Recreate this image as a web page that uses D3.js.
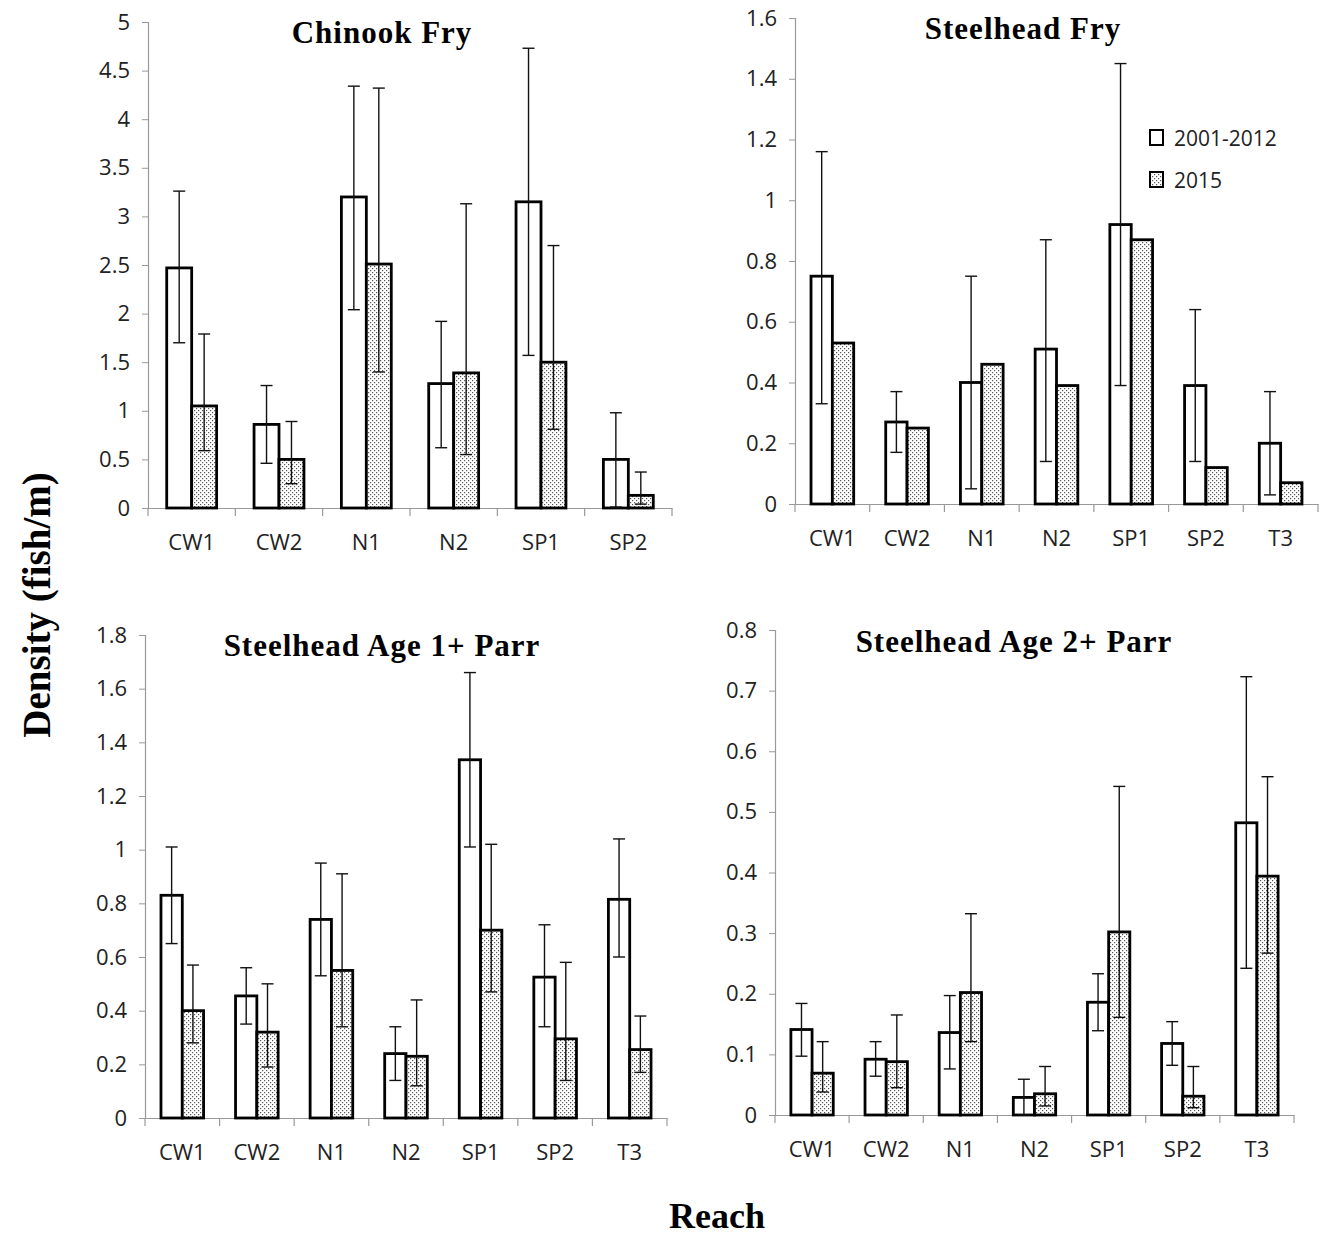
<!DOCTYPE html>
<html>
<head>
<meta charset="utf-8">
<script src="https://cdn.jsdelivr.net/npm/d3@7"></script>
<style>
  body { margin: 0; background: #fff; }
  .tick text { font-family: "Open Sans", "Liberation Sans", sans-serif; fill: #222; }
</style>
</head>
<body>
<svg id="chart" width="1334" height="1237"></svg>
<script>
// categories
var reaches6 = ["CW1", "CW2", "N1", "N2", "SP1", "SP2"];
var reaches7 = ["CW1", "CW2", "N1", "N2", "SP1", "SP2", "T3"];
var seriesNames = ["2001-2012", "2015"];

// Chinook fry
var chinookMean2001 = [2.47, 0.86, 3.20, 1.28, 3.15, 0.50];
var chinookLo2001 = [1.70, 0.46, 2.04, 0.62, 1.57, 0.01];
var chinookHi2001 = [3.26, 1.26, 4.34, 1.92, 4.73, 0.98];
var chinookMean2015 = [1.05, 0.50, 2.51, 1.39, 1.50, 0.13];
var chinookLo2015 = [0.59, 0.25, 1.40, 0.55, 0.81, 0.04];
var chinookHi2015 = [1.79, 0.89, 4.32, 3.13, 2.70, 0.37];

// Steelhead fry (no error bars for 2015)
var fryMean2001 = [0.75, 0.27, 0.40, 0.51, 0.92, 0.39, 0.20];
var fryLo2001 = [0.33, 0.17, 0.05, 0.14, 0.39, 0.14, 0.03];
var fryHi2001 = [1.16, 0.37, 0.75, 0.87, 1.45, 0.64, 0.37];
var fryMean2015 = [0.53, 0.25, 0.46, 0.39, 0.87, 0.12, 0.07];

// Steelhead age 1+ parr
var parr1Mean2001 = [0.83, 0.455, 0.74, 0.24, 1.335, 0.525, 0.815];
var parr1Lo2001 = [0.65, 0.35, 0.53, 0.14, 1.01, 0.34, 0.60];
var parr1Hi2001 = [1.01, 0.56, 0.95, 0.34, 1.66, 0.72, 1.04];
var parr1Mean2015 = [0.40, 0.32, 0.55, 0.23, 0.70, 0.295, 0.255];
var parr1Lo2015 = [0.28, 0.19, 0.34, 0.12, 0.47, 0.14, 0.17];
var parr1Hi2015 = [0.57, 0.50, 0.91, 0.44, 1.02, 0.58, 0.38];

// Steelhead age 2+ parr
var parr2Mean2001 = [0.141, 0.092, 0.136, 0.029, 0.186, 0.118, 0.482];
var parr2Lo2001 = [0.097, 0.064, 0.076, 0.0, 0.139, 0.082, 0.242];
var parr2Hi2001 = [0.184, 0.121, 0.197, 0.059, 0.233, 0.154, 0.723];
var parr2Mean2015 = [0.069, 0.088, 0.202, 0.035, 0.302, 0.031, 0.394];
var parr2Lo2015 = [0.038, 0.045, 0.121, 0.015, 0.161, 0.012, 0.267];
var parr2Hi2015 = [0.121, 0.165, 0.332, 0.080, 0.542, 0.080, 0.558];

var svg = d3.select("#chart");

// dotted fill for the 2015 bars
var pat = svg.append("defs").append("pattern")
    .attr("id", "dots")
    .attr("patternUnits", "userSpaceOnUse")
    .attr("width", 4).attr("height", 4);
pat.append("rect").attr("width", 4).attr("height", 4).attr("fill", "#fff");
pat.append("rect").attr("x", 0).attr("y", 0).attr("width", 1.2).attr("height", 1.2).attr("fill", "#555");
pat.append("rect").attr("x", 2).attr("y", 2).attr("width", 1.2).attr("height", 1.2).attr("fill", "#555");

var panels = [
    { title: "Chinook Fry", cats: reaches6, max: 5, step: 0.5,
      left: 148, right: 672, top: 22, bottom: 508, titleX: 382, titleY: 43,
      mean: [chinookMean2001, chinookMean2015],
      lo: [chinookLo2001, chinookLo2015], hi: [chinookHi2001, chinookHi2015] },
    { title: "Steelhead Fry", cats: reaches7, max: 1.6, step: 0.2,
      left: 795, right: 1318, top: 18, bottom: 504, titleX: 1023, titleY: 39,
      mean: [fryMean2001, fryMean2015],
      lo: [fryLo2001, null], hi: [fryHi2001, null], legend: true },
    { title: "Steelhead Age 1+ Parr", cats: reaches7, max: 1.8, step: 0.2,
      left: 145, right: 667, top: 635, bottom: 1118, titleX: 382, titleY: 656,
      mean: [parr1Mean2001, parr1Mean2015],
      lo: [parr1Lo2001, parr1Lo2015], hi: [parr1Hi2001, parr1Hi2015] },
    { title: "Steelhead Age 2+ Parr", cats: reaches7, max: 0.8, step: 0.1,
      left: 775, right: 1294, top: 630, bottom: 1115, titleX: 1014, titleY: 652,
      mean: [parr2Mean2001, parr2Mean2015],
      lo: [parr2Lo2001, parr2Lo2015], hi: [parr2Hi2001, parr2Hi2015] }
];

panels.forEach(function (p) {
    var x = d3.scaleBand().domain(p.cats).range([p.left, p.right]).paddingInner(0).paddingOuter(0);
    var sub = d3.scaleBand().domain([0, 1]).range([0, x.bandwidth()]).paddingOuter(0.75).paddingInner(0);
    var y = d3.scaleLinear().domain([0, p.max]).range([p.bottom, p.top]);
    var g = svg.append("g");

    // y axis
    var yTicks = d3.range(0, p.max + p.step / 2, p.step).map(function (v) { return +v.toFixed(2); });
    var yAxis = g.append("g")
        .attr("transform", "translate(" + p.left + ",0)")
        .call(d3.axisLeft(y).tickValues(yTicks).tickSize(6).tickPadding(12).tickFormat(function (d) { return d; }));
    yAxis.selectAll("text").attr("font-size", "22px");

    // x axis with boundary ticks
    var xAxis = g.append("g")
        .attr("transform", "translate(0," + p.bottom + ")")
        .call(d3.axisBottom(x).tickSize(0).tickPadding(26));
    xAxis.selectAll("text").attr("font-size", "22px");
    xAxis.selectAll(".tick line").remove();
    g.selectAll(".bound")
        .data(d3.range(p.cats.length + 1))
        .enter().append("line")
        .attr("x1", function (i) { return p.left + i * x.step(); })
        .attr("x2", function (i) { return p.left + i * x.step(); })
        .attr("y1", p.bottom).attr("y2", p.bottom + 8)
        .attr("stroke", "#999").attr("stroke-width", 1.2);
    g.selectAll(".domain").attr("stroke", "#999").attr("stroke-width", 1.2);
    yAxis.selectAll(".tick line").attr("stroke", "#999");

    // bars
    [0, 1].forEach(function (s) {
        g.selectAll(".bar" + s)
            .data(p.cats)
            .enter().append("rect")
            .attr("x", function (c) { return x(c) + sub(s); })
            .attr("y", function (c, i) { return y(p.mean[s][i]); })
            .attr("width", sub.bandwidth())
            .attr("height", function (c, i) { return y(0) - y(p.mean[s][i]); })
            .attr("fill", s === 0 ? "#fff" : "url(#dots)")
            .attr("stroke", "#000")
            .attr("stroke-width", 2.8);
    });

    // error bars
    [0, 1].forEach(function (s) {
        if (!p.lo[s]) return;
        var eb = g.selectAll(".err" + s)
            .data(p.cats)
            .enter().append("g")
            .attr("transform", function (c) { return "translate(" + (x(c) + sub(s) + sub.bandwidth() / 2) + ",0)"; });
        eb.append("line")
            .attr("y1", function (c, i) { return y(p.lo[s][i]); })
            .attr("y2", function (c, i) { return y(p.hi[s][i]); })
            .attr("stroke", "#111").attr("stroke-width", 1.4);
        eb.append("line")
            .attr("x1", -6).attr("x2", 6)
            .attr("y1", function (c, i) { return y(p.hi[s][i]); })
            .attr("y2", function (c, i) { return y(p.hi[s][i]); })
            .attr("stroke", "#111").attr("stroke-width", 1.4);
        eb.append("line")
            .attr("x1", -6).attr("x2", 6)
            .attr("y1", function (c, i) { return y(p.lo[s][i]); })
            .attr("y2", function (c, i) { return y(p.lo[s][i]); })
            .attr("stroke", "#111").attr("stroke-width", 1.4);
    });

    // title
    g.append("text")
        .attr("x", p.titleX)
        .attr("y", p.titleY)
        .attr("text-anchor", "middle")
        .attr("font-family", "Liberation Serif, Times New Roman, serif")
        .attr("font-weight", "bold")
        .attr("font-size", "31px")
        .attr("letter-spacing", "1px")
        .text(p.title);

    if (p.legend) {
        var lg = g.append("g").attr("transform", "translate(1150,138)");
        seriesNames.forEach(function (name, i) {
            lg.append("rect")
                .attr("x", 0).attr("y", i * 42 - 8)
                .attr("width", 13).attr("height", 15)
                .attr("fill", i === 0 ? "#fff" : "url(#dots)")
                .attr("stroke", "#000").attr("stroke-width", 2);
            lg.append("text")
                .attr("x", 24).attr("y", i * 42 + 8)
                .attr("font-family", "Open Sans, Liberation Sans, sans-serif")
                .attr("font-size", "21px")
                .attr("fill", "#222")
                .text(name);
        });
    }
});

// shared axis titles
svg.append("text")
    .attr("transform", "translate(50,605) rotate(-90)")
    .attr("text-anchor", "middle")
    .attr("font-family", "Liberation Serif, Times New Roman, serif")
    .attr("font-weight", "bold")
    .attr("font-size", "39px")
    .text("Density (fish/m)");

svg.append("text")
    .attr("x", 717).attr("y", 1228)
    .attr("text-anchor", "middle")
    .attr("font-family", "Liberation Serif, Times New Roman, serif")
    .attr("font-weight", "bold")
    .attr("font-size", "36px")
    .text("Reach");
</script>
</body>
</html>
